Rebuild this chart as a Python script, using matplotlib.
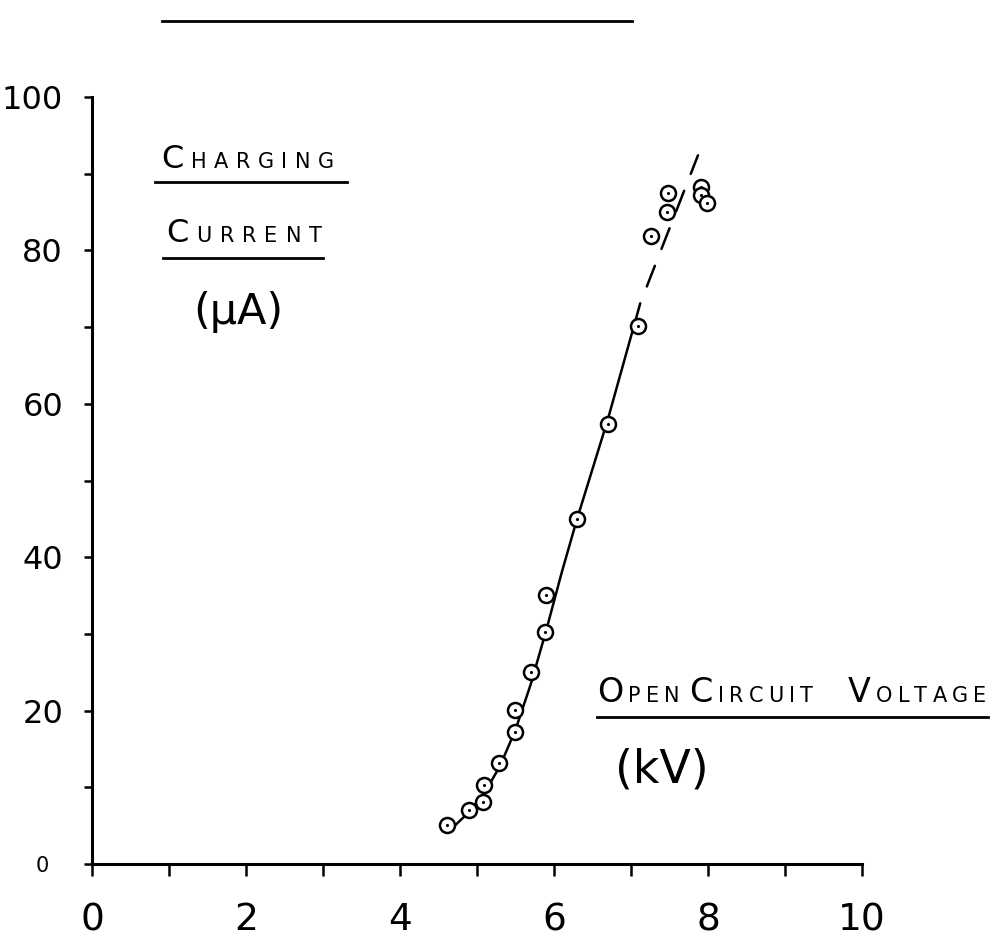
import matplotlib
matplotlib.use("Agg")
import matplotlib.pyplot as plt
from matplotlib.lines import Line2D
from matplotlib.transforms import ScaledTranslation

# measured points (open circuit voltage kV, charging current uA)
volts = [4.61, 4.90, 5.08, 5.09, 5.29, 5.49, 5.49, 5.70, 5.88, 5.90,
         6.30, 6.70, 7.09, 7.26, 7.47, 7.48, 7.91, 7.91, 7.99]
current = [5.1, 7.0, 8.1, 10.3, 13.2, 17.2, 20.1, 25.0, 30.2, 35.1,
           45.0, 57.4, 70.1, 81.9, 85.0, 87.5, 88.3, 87.2, 86.2]

# hand drawn fit, solid part and dashed extrapolation
fit_v = [4.68, 4.90, 5.10, 5.30, 5.50, 5.70, 5.90, 6.10, 6.30, 6.70, 7.12]
fit_i = [4.7, 6.8, 9.3, 12.8, 17.5, 23.5, 30.5, 38.0, 45.0, 58.0, 73.1]
dash_v = [7.12, 7.87]
dash_i = [73.1, 92.4]

x_ticks = list(range(0, 11))
x_labels = ["0", "", "2", "", "4", "", "6", "", "8", "", "10"]
y_ticks = list(range(0, 101, 10))
y_labels = ["0", "", "20", "", "40", "", "60", "", "80", "", "100"]

W, H = 997, 952
plt.rcParams["lines.scale_dashes"] = False
plt.rcParams["font.family"] = ["DejaVu Sans"]

fig = plt.figure(figsize=(W / 100, H / 100), dpi=100)
ax = fig.add_axes([92 / W, 88 / H, 770 / W, 767 / H])

ax.plot(fit_v, fit_i, color="black", lw=1.8, solid_capstyle="round")
ax.plot(dash_v, dash_i, color="black", lw=1.8,
        linestyle=(16, (16, 13)), dash_capstyle="round")
ax.plot(volts, current, "o", ms=10.8, mfc="white", mec="black", mew=1.8)
ax.plot(volts, current, ".", ms=2.5, color="black")

ax.set_xlim(0, 10)
ax.set_ylim(0, 100)
for s in ["top", "right"]:
    ax.spines[s].set_visible(False)
for s in ["left", "bottom"]:
    ax.spines[s].set_linewidth(2.2)

ax.set_xticks(x_ticks)
ax.set_xticklabels(x_labels, fontsize=27)
ax.set_yticks(y_ticks)
ax.set_yticklabels(y_labels, fontsize=23)
ax.tick_params(axis="x", direction="out", length=8.6, width=1.8, pad=19)
ax.tick_params(axis="y", direction="out", length=5.8, width=1.8, pad=15)
zero_lab = ax.get_yticklabels()[0]
zero_lab.set_fontsize(15)
zero_lab.set_transform(zero_lab.get_transform()
                       + ScaledTranslation(-0.14, 0, fig.dpi_scale_trans))

renderer = fig.canvas.get_renderer()


def caps_label(x0, base, words, big, small, sep, word_gaps):
    # small caps look: first letter of each word big, the rest small
    x = x0
    for k, word in enumerate(words):
        for i, ch in enumerate(word):
            t = fig.text(x / W, 1 - base / H, ch, fontsize=big if i == 0 else small,
                         va="baseline", ha="left")
            x += t.get_window_extent(renderer).width + sep
        if k < len(word_gaps):
            x += word_gaps[k]


def underline(x0, x1, y):
    fig.add_artist(Line2D([x0 / W, x1 / W], [1 - y / H, 1 - y / H],
                          transform=fig.transFigure, color="black", lw=2.0))


caps_label(161, 168, ["CHARGING"], 23, 15, 7.5, [])
underline(155, 347, 182)
caps_label(166, 242, ["CURRENT"], 23, 15, 8, [])
underline(163, 323, 258)
fig.text(238 / W, 1 - 312 / H, "(μA)", fontsize=31, ha="center", va="center")

caps_label(597, 702, ["OPEN", "CIRCUIT", "VOLTAGE"], 24, 15, 5.2, [4, 30])
underline(597, 988, 717)
fig.text(662 / W, 1 - 770 / H, "(kV)", fontsize=33, ha="center", va="center")

# rule drawn across the top of the sheet
underline(162, 632, 21)

fig.savefig("out.png", dpi=100)
